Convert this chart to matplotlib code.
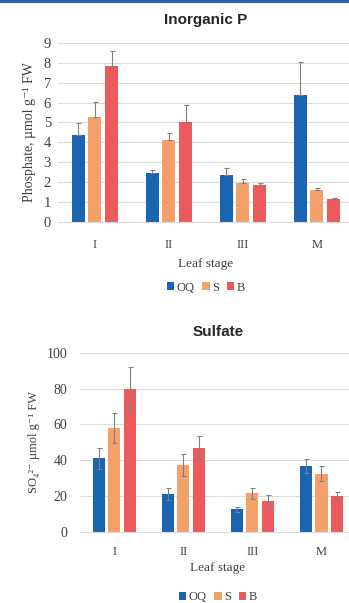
import matplotlib
matplotlib.use('Agg')
import matplotlib.pyplot as plt
import numpy as np

plt.rcParams['font.family'] = ['Liberation Serif', 'DejaVu Serif']

# Data
stages = ['I', 'II', 'III', 'M']
series = ['OQ', 'S', 'B']

p_oq = [4.35, 2.45, 2.38, 6.4]
p_s = [5.25, 4.1, 1.97, 1.58]
p_b = [7.85, 5.02, 1.83, 1.15]
p_oq_err = [0.6, 0.15, 0.32, 1.65]
p_s_err = [0.8, 0.35, 0.18, 0.14]
p_b_err = [0.75, 0.83, 0.12, 0.05]

s_oq = [41, 21, 12.5, 36.5]
s_s = [58, 37.5, 21.5, 32.5]
s_b = [80, 47, 17.5, 20]
s_oq_err = [5.8, 3.4, 1.5, 3.9]
s_s_err = [8.5, 6.2, 3.0, 4.3]
s_b_err = [12.3, 6.4, 3.0, 2.3]

COLORS = ['#1a64b0', '#f4a06a', '#ec5a5e']
GRID = '#dcdcdc'
ERR = '#808080'
TXT = '#404040'

fig = plt.figure(figsize=(3.49, 6.03), dpi=100)

# blue rule at the top edge
fig.add_artist(plt.Line2D([0, 1], [0.998, 0.998], color='#2a63a6', lw=2.2,
                          transform=fig.transFigure))


def draw_panel(ax, values, errs, ylim, yticks, title, ylabel, upper_only,
               ytick_fs, ylab_fs, ylab_x, ytick_pad, xtick_pad, xlab_pad,
               title_pad, leg_y):
    x = np.arange(len(stages))
    width = 0.175
    step = 0.225
    for i, (vals, err) in enumerate(zip(values, errs)):
        pos = x + (i - 1) * step
        yerr = [np.zeros(len(err)), err] if upper_only else err
        ax.bar(pos, vals, width, color=COLORS[i], label=series[i], zorder=2)
        ax.errorbar(pos, vals, yerr=yerr, fmt='none', ecolor=ERR,
                    elinewidth=0.8, capsize=1.8, capthick=0.8, zorder=3)
    ax.set_xlim(-0.5, 3.5)
    ax.set_ylim(*ylim)
    ax.set_yticks(yticks)
    ax.yaxis.grid(True, color=GRID, lw=0.8, zorder=0)
    ax.set_axisbelow(True)
    for sp in ['top', 'right', 'left']:
        ax.spines[sp].set_visible(False)
    ax.spines['bottom'].set_color(GRID)
    ax.tick_params(axis='both', length=0, colors=TXT)
    ax.tick_params(axis='y', labelsize=ytick_fs, pad=ytick_pad)
    ax.tick_params(axis='x', pad=xtick_pad, labelsize=9)
    ax.set_xticks(x)
    ax.set_xticklabels(stages)
    ax.set_xlabel('Leaf stage', fontsize=9.5, color=TXT, labelpad=xlab_pad)
    ax.set_title(title, fontsize=11, fontweight='bold', family='Liberation Sans',
                 color='#262626', pad=title_pad)
    ax.set_ylabel(ylabel, fontsize=ylab_fs, color=TXT)
    ax.yaxis.set_label_coords(ylab_x, 0.5)
    ax.legend(loc='upper center', bbox_to_anchor=(0.5, leg_y), ncol=3,
              frameon=False, fontsize=9, handlelength=0.6,
              handleheight=0.6, handletextpad=0.2, columnspacing=0.6,
              labelcolor=TXT)


ax1 = fig.add_axes([0.166, 0.632, 0.848, 0.297])
draw_panel(ax1, [p_oq, p_s, p_b], [p_oq_err, p_s_err, p_b_err], (0, 9),
           range(0, 10), 'Inorganic P', 'Phosphate, µmol g⁻¹ FW', True,
           10.5, 10, -0.075, 5, 12, 5, 13.5, -0.27)

ax2 = fig.add_axes([0.229, 0.118, 0.791, 0.297])
draw_panel(ax2, [s_oq, s_s, s_b], [s_oq_err, s_s_err, s_b_err], (0, 100),
           range(0, 101, 20), 'Sulfate', 'SO₄²⁻ µmol g⁻¹ FW', False,
           10, 9, -0.143, 9, 10, 3, 12, -0.27)

fig.savefig('out.png', dpi=100)
